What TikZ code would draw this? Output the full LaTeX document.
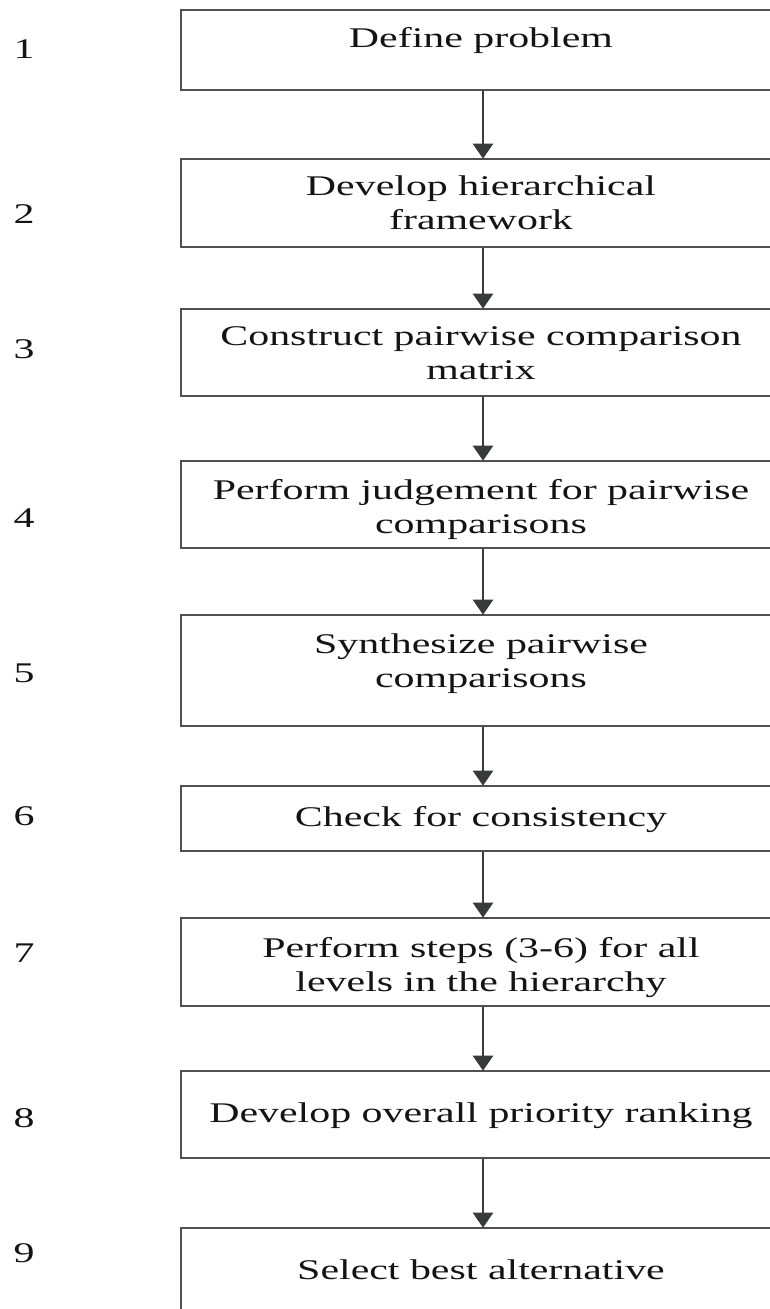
\documentclass[tikz,border=0pt]{standalone}
\usepackage{fontspec}
\setmainfont{Liberation Serif}[FakeStretch=1.47]
\usetikzlibrary{arrows.meta}
\definecolor{boxc}{HTML}{505050}
\definecolor{arrc}{HTML}{383B3C}
\definecolor{txtc}{HTML}{141414}
\begin{document}
\begin{tikzpicture}[x=1pt,y=-1pt,
  stepbox/.style={draw=boxc, line width=2.6pt, rectangle, minimum width=604pt, inner sep=0pt},
  steptext/.style={anchor=north, align=center, inner sep=0pt, text=txtc, text height=19pt, text depth=6pt,
    font=\fontsize{28.5}{34}\selectfont},
  stepnum/.style={anchor=base, inner sep=0pt, text=txtc, font=\fontsize{28.5}{34}\selectfont},
  arr/.style={draw=arrc, line width=2.4pt, -{Triangle[length=15pt,width=20pt]}, shorten >=-1pt}]
\useasboundingbox (0,0) rectangle (769,1309);
\fill[white] (0,0) rectangle (769,1309);
% boxes
\node[stepbox, minimum height=80pt]  (b1) at (483,50) {};
\node[stepbox, minimum height=88pt]  (b2) at (483,203) {};
\node[stepbox, minimum height=87pt]  (b3) at (483,352.5) {};
\node[stepbox, minimum height=87pt]  (b4) at (483,504.5) {};
\node[stepbox, minimum height=111pt] (b5) at (483,670.5) {};
\node[stepbox, minimum height=65pt]  (b6) at (483,818.5) {};
\node[stepbox, minimum height=88pt]  (b7) at (483,962) {};
\node[stepbox, minimum height=87pt]  (b8) at (483,1114.5) {};
\node[stepbox, minimum height=90pt]  (b9) at (483,1273) {};
% texts (north = last baseline - 19)
\node[steptext] (t1) at (481,28) {Define problem};
\node[steptext] (t2) at (481,210) {Develop hierarchical\\framework};
\node[steptext] (t3) at (481,360) {Construct pairwise comparison\\matrix};
\node[steptext] (t4) at (481,514) {Perform judgement for pairwise\\comparisons};
\node[steptext] (t5) at (481,668) {Synthesize pairwise\\comparisons};
\node[steptext] (t6) at (481,807) {Check for consistency};
\node[steptext] (t7) at (481,972) {Perform steps (3-6) for all\\levels in the hierarchy};
\node[steptext] (t8) at (481,1103) {Develop overall priority ranking};
\node[steptext] (t9) at (481,1260) {Select best alternative};
% numbers
\node[stepnum] (n1) at (24,58) {1};
\node[stepnum] (n2) at (24,223) {2};
\node[stepnum] (n3) at (24,358) {3};
\node[stepnum] (n4) at (24,527) {4};
\node[stepnum] (n5) at (24,682) {5};
\node[stepnum] (n6) at (24,825) {6};
\node[stepnum] (n7) at (24,962) {7};
\node[stepnum] (n8) at (24,1127) {8};
\node[stepnum] (n9) at (24,1262) {9};
% arrows
\draw[arr] (b1.south) -- (b2.north);
\draw[arr] (b2.south) -- (b3.north);
\draw[arr] (b3.south) -- (b4.north);
\draw[arr] (b4.south) -- (b5.north);
\draw[arr] (b5.south) -- (b6.north);
\draw[arr] (b6.south) -- (b7.north);
\draw[arr] (b7.south) -- (b8.north);
\draw[arr] (b8.south) -- (b9.north);
\end{tikzpicture}
\end{document}
